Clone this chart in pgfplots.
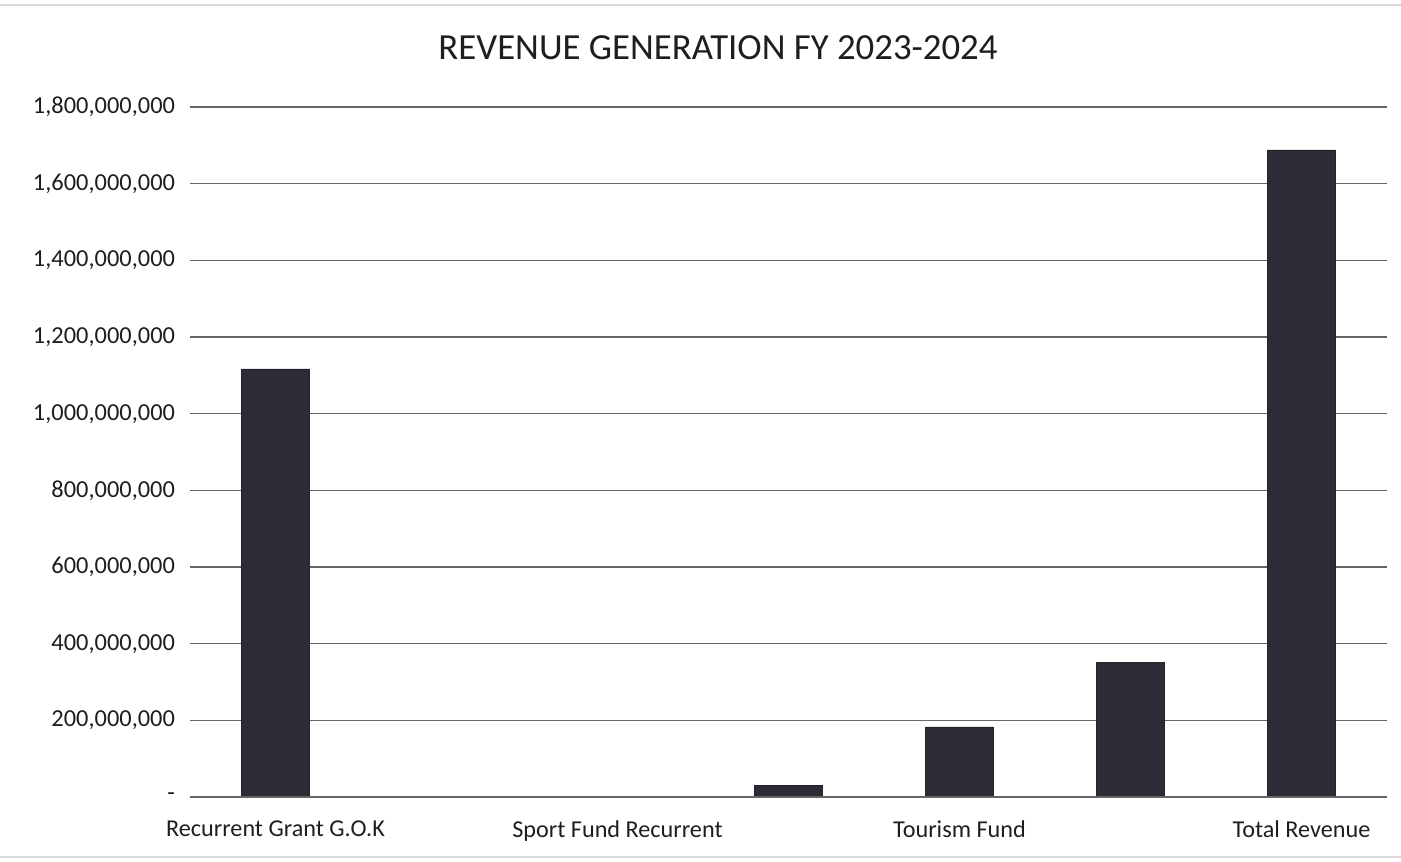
\documentclass[border=0pt]{standalone}
\usepackage{pgfplots}
\pgfplotsset{compat=1.18}
\usepackage{fontspec}
\setmainfont{Carlito}
\definecolor{barc}{RGB}{44,44,54}
\definecolor{txt}{RGB}{30,30,30}
\begin{document}
\begin{tikzpicture}
\path[use as bounding box] (-95pt,-32pt) rectangle (605.5pt,398.5pt);
\draw[black!15, line width=0.6pt] (-95pt,396pt) -- (605.5pt,396pt);
\draw[black!15, line width=0.6pt] (-95pt,-30pt) -- (605.5pt,-30pt);
\begin{axis}[
  scale only axis,
  width=598.5pt, height=345pt,
  anchor=south west, at={(0,0)},
  xmin=-0.5, xmax=6.5,
  ymin=0, ymax=1800000000,
  axis line style={draw=none},
  scaled y ticks=false,
  ybar, bar width=34pt,
  ytick={0,200000000,400000000,600000000,800000000,1000000000,1200000000,1400000000,1600000000,1800000000},
  yticklabels={-, {200,000,000}, {400,000,000}, {600,000,000}, {800,000,000}, {1,000,000,000}, {1,200,000,000}, {1,400,000,000}, {1,600,000,000}, {1,800,000,000}},
  xtick={0,2,4,6},
  xticklabels={Recurrent Grant G.O.K, Sport Fund Recurrent, Tourism Fund, Total Revenue},
  ymajorgrids,
  major grid style={draw=black!60, line width=0.6pt},
  tick style={draw=none},
  yticklabel style={font=\fontsize{12.2}{14}\selectfont, text=txt, xshift=-4pt},
  xticklabel style={font=\fontsize{12.1}{14}\selectfont, text=txt, yshift=-4pt},
  clip=false,
]
\addplot[draw=barc!80!black, fill=barc, line width=0.3pt] coordinates {
  (0,1117000000) (1,0) (2,0) (3,31000000) (4,183000000) (5,352000000) (6,1688000000)
};
\draw[black!60, line width=0.8pt] (axis cs:-0.5,0) -- (axis cs:6.5,0);
\end{axis}
\node[font=\fontsize{18.4}{22}\selectfont, text=txt] at (264pt,374.5pt) {REVENUE GENERATION FY 2023-2024};
\end{tikzpicture}
\end{document}
